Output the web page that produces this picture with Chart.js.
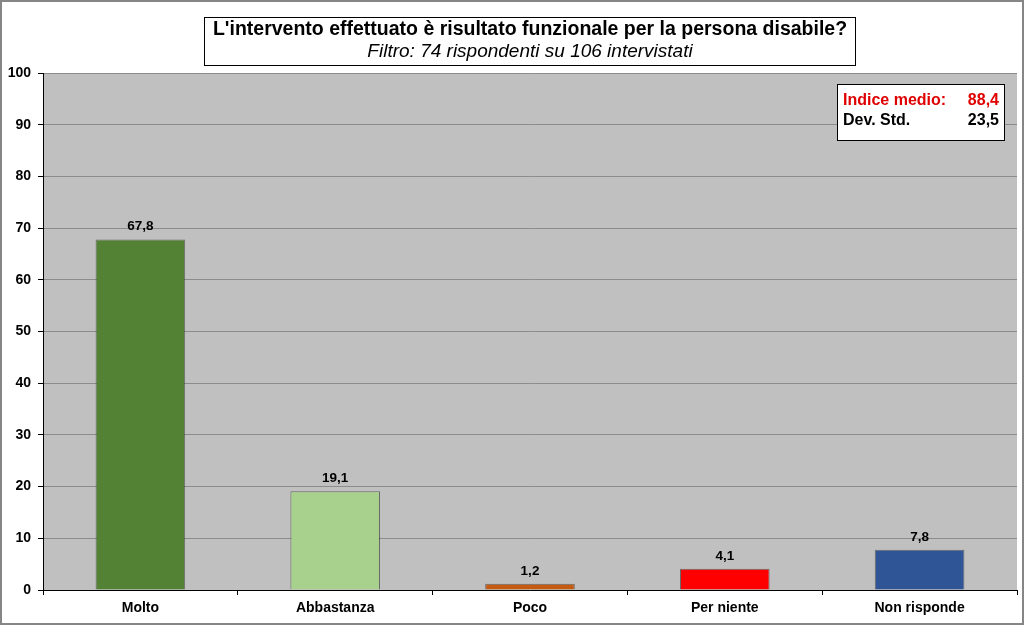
<!DOCTYPE html>
<html>
<head>
<meta charset="utf-8">
<script src="https://cdn.jsdelivr.net/npm/chart.js@4"></script>
<style>
  html, body { margin: 0; padding: 0; background: #fff; }
  #box { width: 1024px; height: 625px; }
</style>
</head>
<body>
<div id="box"><canvas id="grafico"></canvas></div>
<script>
// dati del grafico
const categorie = ["Molto", "Abbastanza", "Poco", "Per niente", "Non risponde"];
const valori = [67.8, 19.1, 1.2, 4.1, 7.8];
const colori = ["#548235", "#a9d18e", "#c55a11", "#ff0000", "#2f5597"];
const titolo = "L'intervento effettuato è risultato funzionale per la persona disabile?";
const sottotitolo = "Filtro: 74 rispondenti su 106 intervistati";
const indiceEtichette = ["Indice medio:", "Dev. Std."];
const indiceValori = ["88,4", "23,5"];

const fmt = v => v.toFixed(1).replace(".", ",");
const FONT = "'Liberation Sans', Arial, sans-serif";

// sfondo grigio dell'area del grafico + cornice esterna
const sfondo = {
  id: "sfondo",
  beforeDraw(chart) {
    const { ctx, chartArea: a } = chart;
    ctx.save();
    ctx.fillStyle = "#c0c0c0";
    ctx.fillRect(a.left, a.top, a.right - a.left, a.bottom - a.top);
    ctx.restore();
  },
  afterDraw(chart) {
    const ctx = chart.ctx;
    ctx.save();
    ctx.strokeStyle = "#868686";
    ctx.lineWidth = 2;
    ctx.strokeRect(1, 1, chart.width - 2, chart.height - 2);
    ctx.restore();
  }
};

// etichette sopra le barre
const etichette = {
  id: "etichette",
  afterDatasetsDraw(chart) {
    const ctx = chart.ctx;
    const meta = chart.getDatasetMeta(0);
    ctx.save();
    ctx.font = "bold 13.5px " + FONT;
    ctx.fillStyle = "#000";
    ctx.textAlign = "center";
    ctx.textBaseline = "bottom";
    meta.data.forEach((bar, i) => {
      ctx.fillText(fmt(valori[i]), bar.x, bar.y - 6);
    });
    ctx.restore();
  }
};

// riquadro titolo e riquadro indice
const riquadri = {
  id: "riquadri",
  afterDraw(chart) {
    const ctx = chart.ctx;
    ctx.save();
    // titolo
    ctx.fillStyle = "#fff";
    ctx.fillRect(204, 17, 651, 48);
    ctx.strokeStyle = "#000";
    ctx.lineWidth = 1;
    ctx.strokeRect(204.5, 17.5, 651, 48);
    ctx.fillStyle = "#000";
    ctx.textAlign = "center";
    ctx.textBaseline = "middle";
    ctx.font = "bold 19.5px " + FONT;
    ctx.fillText(titolo, 530, 30);
    ctx.font = "italic 19px " + FONT;
    ctx.fillText(sottotitolo, 530, 52);
    // indice
    ctx.fillStyle = "#fff";
    ctx.fillRect(837, 84, 167, 56);
    ctx.strokeRect(837.5, 84.5, 167, 56);
    ctx.font = "bold 16px " + FONT;
    ctx.textBaseline = "middle";
    ctx.fillStyle = "#e00000";
    ctx.textAlign = "left";
    ctx.fillText(indiceEtichette[0], 843, 101);
    ctx.textAlign = "right";
    ctx.fillText(indiceValori[0], 999, 101);
    ctx.fillStyle = "#000";
    ctx.textAlign = "left";
    ctx.fillText(indiceEtichette[1], 843, 121);
    ctx.textAlign = "right";
    ctx.fillText(indiceValori[1], 999, 121);
    ctx.restore();
  }
};

new Chart(document.getElementById("grafico"), {
  type: "bar",
  data: {
    labels: categorie,
    datasets: [{
      data: valori,
      backgroundColor: colori,
      borderColor: "rgba(0,0,0,0.45)",
      borderWidth: 1,
      barPercentage: 0.46,
      categoryPercentage: 1
    }]
  },
  options: {
    responsive: true,
    maintainAspectRatio: false,
    animation: false,
    layout: { padding: { top: 73, right: 7, left: 0, bottom: 0 } },
    plugins: {
      legend: { display: false },
      tooltip: { enabled: false }
    },
    scales: {
      x: {
        grid: {
          offset: true,
          drawOnChartArea: false,
          drawTicks: true,
          tickLength: 5,
          color: "#000"
        },
        border: { color: "#000" },
        ticks: {
          color: "#000",
          font: { family: FONT, size: 14, weight: "bold" },
          padding: 5
        },
        afterFit(scale) { scale.height = 35; }
      },
      y: {
        min: 0,
        max: 100,
        ticks: {
          stepSize: 10,
          color: "#000",
          font: { family: FONT, size: 14, weight: "bold" },
          padding: 7
        },
        grid: {
          color: "#8c8c8c",
          tickLength: 5,
          tickColor: "#000"
        },
        border: { color: "#000" },
        afterFit(scale) { scale.width = 43; }
      }
    }
  },
  plugins: [sfondo, etichette, riquadri]
});
</script>
</body>
</html>
